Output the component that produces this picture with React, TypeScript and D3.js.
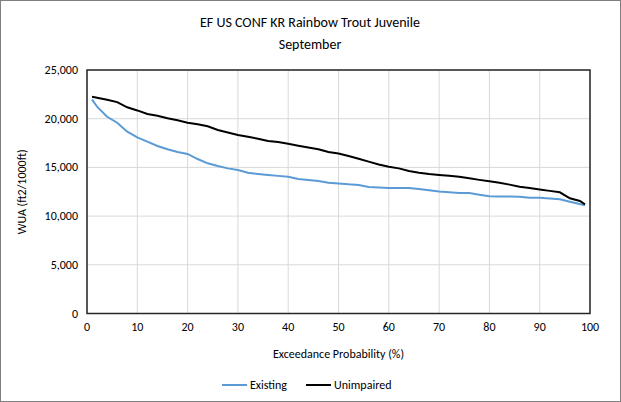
import React from "react";
import * as d3 from "d3";

const unimpairedX = [1, 4, 6, 8, 10, 12, 14, 16, 18, 20, 22, 24, 26, 28, 30, 32, 34, 36, 38, 40, 42, 44, 46, 48, 50, 52, 54, 56, 58, 60, 62, 64, 66, 68, 70, 72, 74, 76, 78, 80, 82, 84, 86, 88, 90, 92, 94, 96, 98, 99];
const unimpairedY = [22260, 21950, 21700, 21170, 20850, 20480, 20310, 20040, 19840, 19590, 19420, 19220, 18840, 18580, 18330, 18140, 17950, 17710, 17600, 17420, 17230, 17050, 16860, 16580, 16430, 16170, 15880, 15590, 15300, 15070, 14900, 14630, 14460, 14320, 14230, 14140, 14050, 13880, 13720, 13570, 13430, 13230, 13020, 12890, 12740, 12590, 12440, 11830, 11550, 11210];

const existingX = [1, 2, 4, 6, 8, 10, 12, 14, 16, 18, 20, 22, 24, 26, 28, 30, 32, 34, 36, 38, 40, 42, 44, 46, 48, 50, 52, 54, 56, 58, 60, 62, 64, 66, 68, 70, 72, 74, 76, 78, 80, 82, 84, 86, 88, 90, 92, 94, 96, 99];
const existingY = [21990, 21230, 20200, 19590, 18670, 18090, 17640, 17200, 16860, 16580, 16380, 15860, 15420, 15140, 14900, 14730, 14460, 14330, 14220, 14130, 14050, 13810, 13700, 13600, 13430, 13350, 13260, 13200, 12990, 12940, 12890, 12890, 12890, 12780, 12650, 12520, 12450, 12370, 12370, 12200, 12030, 12010, 12000, 11990, 11890, 11890, 11810, 11720, 11480, 11110];

const xTicks = [0, 10, 20, 30, 40, 50, 60, 70, 80, 90, 100];
const yTicks = [0, 5000, 10000, 15000, 20000, 25000];

const titleLines = ["EF US CONF KR Rainbow Trout Juvenile", "September"];
const xTitle = "Exceedance Probability (%)";
const yTitle = "WUA (ft2/1000ft)";
const seriesNames = ["Existing", "Unimpaired"];
const seriesColors = ["#5b9bd5", "#000000"];

export default function App() {
  const W = 621, H = 402;
  const left = 87, right = 590, top = 70, bottom = 313.5;
  const x = d3.scaleLinear().domain([0, 100]).range([left, right]);
  const y = d3.scaleLinear().domain([0, 25000]).range([bottom, top]);
  const fmt = d3.format(",");
  const font = "Carlito, Calibri, 'Liberation Sans Narrow', 'Open Sans', sans-serif";

  const line = d3.line<[number, number]>().x(d => x(d[0])).y(d => y(d[1]));
  const existing = existingX.map((v, i) => [v, existingY[i]] as [number, number]);
  const unimpaired = unimpairedX.map((v, i) => [v, unimpairedY[i]] as [number, number]);

  return (
    <svg width={W} height={H} style={{ position: "absolute", left: 0, top: 0 }} fontFamily={font}>
      <rect x={0.5} y={0.5} width={W - 1} height={H - 1} fill="#fff" stroke="#7f7f7f" />
      {titleLines.map((t, i) => (
        <text key={i} x={310} y={27 + i * 22} textAnchor="middle" fontSize={14} fill="#000">{t}</text>
      ))}
      {xTicks.map(t => (
        <line key={"gx" + t} x1={x(t)} x2={x(t)} y1={top} y2={bottom} stroke="#d9d9d9" />
      ))}
      {yTicks.map(t => (
        <line key={"gy" + t} x1={left} x2={right} y1={y(t)} y2={y(t)} stroke="#d9d9d9" />
      ))}
      <rect x={left} y={top} width={right - left} height={bottom - top} fill="none" stroke="#262626" strokeWidth={1.5} />
      <path d={line(existing) || ""} fill="none" stroke={seriesColors[0]} strokeWidth={2} />
      <path d={line(unimpaired) || ""} fill="none" stroke={seriesColors[1]} strokeWidth={2} />
      {yTicks.map(t => (
        <text key={"ly" + t} x={78} y={y(t) + 4} textAnchor="end" fontSize={12} fill="#000">{fmt(t)}</text>
      ))}
      {xTicks.map(t => (
        <text key={"lx" + t} x={x(t)} y={331} textAnchor="middle" fontSize={12} fill="#000">{t}</text>
      ))}
      <text x={(left + right) / 2} y={358} textAnchor="middle" fontSize={12} fill="#000">{xTitle}</text>
      <text transform={`translate(26,${(top + bottom) / 2}) rotate(-90)`} textAnchor="middle" fontSize={12} fill="#000">{yTitle}</text>
      <line x1={222} x2={247} y1={385} y2={385} stroke={seriesColors[0]} strokeWidth={2} />
      <text x={250} y={389} fontSize={12} fill="#000">{seriesNames[0]}</text>
      <line x1={306} x2={331} y1={385} y2={385} stroke={seriesColors[1]} strokeWidth={2} />
      <text x={334} y={389} fontSize={12} fill="#000">{seriesNames[1]}</text>
    </svg>
  );
}
